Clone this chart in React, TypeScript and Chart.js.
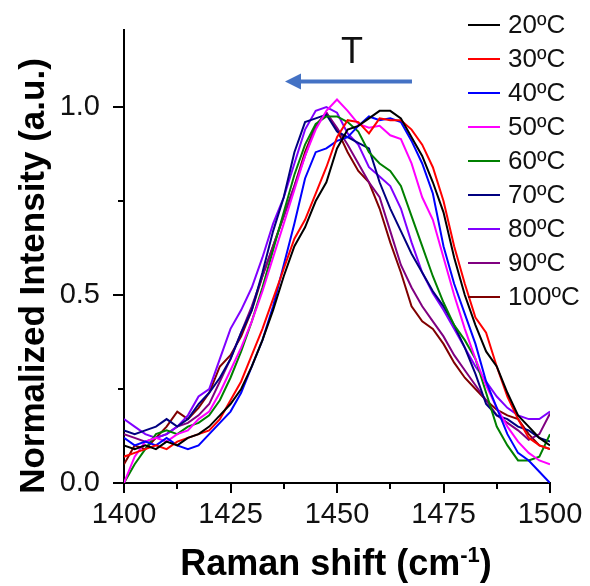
import React, { useEffect, useRef } from "react";
import { Chart, registerables } from "chart.js";

Chart.register(...registerables);

const wavenumbers = [
  1400, 1402.5, 1405, 1407.5, 1410, 1412.5, 1415, 1417.5, 1420, 1422.5,
  1425, 1427.5, 1430, 1432.5, 1435, 1437.5, 1440, 1442.5, 1445, 1447.5,
  1450, 1452.5, 1455, 1457.5, 1460, 1462.5, 1465, 1467.5, 1470, 1472.5,
  1475, 1477.5, 1480, 1482.5, 1485, 1487.5, 1490, 1492.5, 1495, 1497.5, 1500,
];

const t20 = [0.10, 0.09, 0.10, 0.09, 0.11, 0.10, 0.12, 0.13, 0.15, 0.18, 0.21, 0.25, 0.31, 0.38, 0.46, 0.55, 0.63, 0.68, 0.75, 0.80, 0.89, 0.94, 0.95, 0.97, 0.99, 0.99, 0.97, 0.92, 0.87, 0.80, 0.72, 0.60, 0.50, 0.42, 0.35, 0.31, 0.24, 0.18, 0.15, 0.12, 0.10];
const t30 = [0.07, 0.08, 0.09, 0.10, 0.09, 0.11, 0.12, 0.13, 0.14, 0.17, 0.22, 0.27, 0.34, 0.41, 0.49, 0.57, 0.65, 0.70, 0.77, 0.84, 0.92, 0.965, 0.96, 0.93, 0.97, 0.965, 0.965, 0.94, 0.90, 0.84, 0.75, 0.63, 0.53, 0.44, 0.40, 0.31, 0.23, 0.17, 0.12, 0.10, 0.09];
const t40 = [0.12, 0.10, 0.11, 0.10, 0.12, 0.10, 0.09, 0.10, 0.13, 0.16, 0.19, 0.24, 0.31, 0.38, 0.47, 0.58, 0.69, 0.81, 0.88, 0.89, 0.91, 0.92, 0.95, 0.975, 0.965, 0.97, 0.96, 0.91, 0.85, 0.77, 0.63, 0.53, 0.45, 0.37, 0.27, 0.20, 0.13, 0.08, 0.06, 0.03, 0.0];
const t50 = [0.0, 0.07, 0.11, 0.12, 0.11, 0.13, 0.14, 0.17, 0.19, 0.24, 0.30, 0.36, 0.43, 0.51, 0.60, 0.69, 0.78, 0.87, 0.94, 0.99, 1.02, 0.99, 0.955, 0.945, 0.95, 0.925, 0.915, 0.85, 0.76, 0.70, 0.60, 0.50, 0.41, 0.33, 0.26, 0.20, 0.15, 0.11, 0.08, 0.06, 0.05];
const t60 = [0.0, 0.05, 0.09, 0.13, 0.14, 0.13, 0.15, 0.16, 0.18, 0.22, 0.28, 0.35, 0.43, 0.52, 0.62, 0.72, 0.82, 0.90, 0.955, 0.975, 0.975, 0.96, 0.935, 0.88, 0.85, 0.83, 0.79, 0.71, 0.63, 0.55, 0.48, 0.42, 0.38, 0.33, 0.24, 0.15, 0.10, 0.06, 0.06, 0.07, 0.13];
const t70 = [0.14, 0.13, 0.14, 0.15, 0.17, 0.15, 0.17, 0.21, 0.24, 0.28, 0.33, 0.40, 0.46, 0.56, 0.67, 0.76, 0.88, 0.96, 0.97, 0.98, 0.935, 0.92, 0.905, 0.89, 0.80, 0.73, 0.67, 0.61, 0.56, 0.51, 0.47, 0.42, 0.36, 0.29, 0.21, 0.18, 0.17, 0.15, 0.14, 0.12, 0.11];
const t80 = [0.17, 0.15, 0.13, 0.12, 0.13, 0.15, 0.18, 0.23, 0.25, 0.33, 0.41, 0.46, 0.52, 0.60, 0.69, 0.76, 0.85, 0.94, 0.99, 1.0, 0.985, 0.93, 0.90, 0.84, 0.815, 0.79, 0.73, 0.64, 0.56, 0.505, 0.46, 0.41, 0.36, 0.31, 0.27, 0.23, 0.20, 0.18, 0.17, 0.17, 0.19];
const t90 = [0.13, 0.12, 0.11, 0.12, 0.13, 0.15, 0.16, 0.18, 0.21, 0.27, 0.33, 0.40, 0.47, 0.55, 0.63, 0.71, 0.79, 0.87, 0.95, 0.985, 0.945, 0.90, 0.85, 0.80, 0.76, 0.67, 0.58, 0.52, 0.47, 0.43, 0.39, 0.34, 0.30, 0.26, 0.22, 0.18, 0.16, 0.14, 0.115, 0.13, 0.185];
const t100 = [0.05, 0.10, 0.09, 0.12, 0.15, 0.19, 0.17, 0.20, 0.24, 0.31, 0.34, 0.39, 0.46, 0.55, 0.63, 0.71, 0.79, 0.88, 0.95, 0.985, 0.94, 0.88, 0.83, 0.80, 0.73, 0.64, 0.56, 0.47, 0.43, 0.41, 0.37, 0.32, 0.28, 0.25, 0.22, 0.195, 0.18, 0.17, 0.13, 0.10, 0.09];

const seriesLabels = ["20ºC", "30ºC", "40ºC", "50ºC", "60ºC", "70ºC", "80ºC", "90ºC", "100ºC"];
const seriesValues = [t20, t30, t40, t50, t60, t70, t80, t90, t100];
const seriesColors = ["#000000", "#FF0000", "#0000FF", "#FF00FF", "#008000", "#000080", "#8000FF", "#800080", "#800000"];

const xTicks = [1400, 1425, 1450, 1475, 1500];
const xMinorTicks = [1412.5, 1437.5, 1462.5, 1487.5];
const yTicks = [0, 0.5, 1.0];
const yMinorTicks = [0.25, 0.75];

const FONT = "'Liberation Sans', Arial, sans-serif";

const decorPlugin = {
  id: "decor",
  afterDraw(chart: any) {
    const ctx = chart.ctx;
    const xs = chart.scales.x;
    const ys = chart.scales.y;
    const area = chart.chartArea;
    ctx.save();
    // tick marks
    ctx.strokeStyle = "#000";
    ctx.lineWidth = 2;
    ctx.beginPath();
    xTicks.forEach((v) => {
      const px = Math.round(xs.getPixelForValue(v));
      ctx.moveTo(px, area.bottom);
      ctx.lineTo(px, area.bottom + 10);
    });
    xMinorTicks.forEach((v) => {
      const px = Math.round(xs.getPixelForValue(v));
      ctx.moveTo(px, area.bottom);
      ctx.lineTo(px, area.bottom + 6);
    });
    yTicks.forEach((v) => {
      const py = Math.round(ys.getPixelForValue(v));
      ctx.moveTo(area.left, py);
      ctx.lineTo(area.left - 11, py);
    });
    yMinorTicks.forEach((v) => {
      const py = Math.round(ys.getPixelForValue(v));
      ctx.moveTo(area.left, py);
      ctx.lineTo(area.left - 6, py);
    });
    ctx.stroke();

    // arrow with "T"
    const ax1 = xs.getPixelForValue(1467.6);
    const ax2 = xs.getPixelForValue(1437.8);
    const ay = ys.getPixelForValue(1.068);
    ctx.strokeStyle = "#4472C4";
    ctx.fillStyle = "#4472C4";
    ctx.lineWidth = 4;
    ctx.beginPath();
    ctx.moveTo(ax1, ay);
    ctx.lineTo(ax2 + 12, ay);
    ctx.stroke();
    ctx.beginPath();
    ctx.moveTo(ax2, ay);
    ctx.lineTo(ax2 + 16, ay - 8);
    ctx.lineTo(ax2 + 16, ay + 8);
    ctx.closePath();
    ctx.fill();
    ctx.fillStyle = "#111";
    ctx.font = `36px ${FONT}`;
    ctx.textAlign = "center";
    ctx.textBaseline = "alphabetic";
    ctx.fillText("T", xs.getPixelForValue(1453.5), ys.getPixelForValue(1.118));

    // legend
    ctx.textAlign = "left";
    ctx.textBaseline = "middle";
    ctx.font = `26px ${FONT}`;
    chart.data.datasets.forEach((ds: any, i: number) => {
      const y = 25 + i * 34;
      ctx.strokeStyle = ds.borderColor;
      ctx.lineWidth = 2;
      ctx.beginPath();
      ctx.moveTo(468, y);
      ctx.lineTo(500, y);
      ctx.stroke();
      ctx.fillStyle = "#111";
      ctx.fillText(ds.label, 508, y + 1);
    });

    // y title
    ctx.save();
    ctx.translate(34, 276);
    ctx.rotate(-Math.PI / 2);
    ctx.font = `bold 35px ${FONT}`;
    ctx.textAlign = "center";
    ctx.textBaseline = "middle";
    ctx.fillStyle = "#000";
    ctx.fillText("Normalized Intensity (a.u.)", 0, 0);
    ctx.restore();

    // x title with superscript
    const main = "Raman shift (cm";
    const sup = "-1";
    const close = ")";
    ctx.font = `bold 36px ${FONT}`;
    const wMain = ctx.measureText(main).width;
    const wClose = ctx.measureText(close).width;
    ctx.font = `bold 22px ${FONT}`;
    const wSup = ctx.measureText(sup).width;
    const total = wMain + wSup + wClose;
    const cx = 336;
    const x0 = cx - total / 2;
    const base = 575;
    ctx.textAlign = "left";
    ctx.textBaseline = "alphabetic";
    ctx.fillStyle = "#000";
    ctx.font = `bold 36px ${FONT}`;
    ctx.fillText(main, x0, base);
    ctx.font = `bold 22px ${FONT}`;
    ctx.fillText(sup, x0 + wMain, base - 13);
    ctx.font = `bold 36px ${FONT}`;
    ctx.fillText(close, x0 + wMain + wSup, base);
    ctx.restore();
  },
};

const zeroPad = (s: any) => {
  s.paddingTop = 0;
  s.paddingBottom = 0;
  s.paddingLeft = 0;
  s.paddingRight = 0;
};

export default function App() {
  const canvasRef = useRef<HTMLCanvasElement | null>(null);

  useEffect(() => {
    document.body.style.margin = "0";
    const canvas = canvasRef.current;
    if (!canvas) return;
    const datasets = seriesValues.map((vals, i) => ({
      label: seriesLabels[i],
      data: vals.map((v, j) => ({ x: wavenumbers[j], y: v })),
      borderColor: seriesColors[i],
      backgroundColor: seriesColors[i],
      borderWidth: 2,
      pointRadius: 0,
      tension: 0,
      fill: false,
    }));
    const chart = new Chart(canvas, {
      type: "line",
      data: { datasets },
      options: {
        animation: false,
        responsive: false,
        maintainAspectRatio: false,
        layout: { padding: { left: 0, top: 30, right: 40, bottom: 0 } },
        plugins: { legend: { display: false }, tooltip: { enabled: false } },
        scales: {
          x: {
            type: "linear",
            min: 1400,
            max: 1500,
            afterBuildTicks: (s: any) => {
              s.ticks = xTicks.map((v) => ({ value: v }));
            },
            afterFit: (s: any) => {
              s.height = 103;
              zeroPad(s);
            },
            ticks: {
              font: { family: FONT, size: 29 },
              color: "#111",
              padding: 15,
              maxRotation: 0,
              autoSkip: false,
              callback: (v: any) => String(v),
            },
            grid: { display: false, drawTicks: false },
            border: { display: true, color: "#000", width: 2 },
          },
          y: {
            type: "linear",
            min: 0,
            max: 1.205,
            afterBuildTicks: (s: any) => {
              s.ticks = yTicks.map((v) => ({ value: v }));
            },
            afterFit: (s: any) => {
              s.width = 124;
              zeroPad(s);
            },
            ticks: {
              font: { family: FONT, size: 29 },
              color: "#111",
              padding: 24,
              autoSkip: false,
              callback: (v: any) => Number(v).toFixed(1),
            },
            grid: { display: false, drawTicks: false },
            border: { display: true, color: "#000", width: 2 },
          },
        },
      },
      plugins: [decorPlugin],
    });
    return () => chart.destroy();
  }, []);

  return (
    <div style={{ position: "absolute", left: 0, top: 0, width: 590, height: 586, background: "#fff" }}>
      <canvas ref={canvasRef} width={590} height={586} style={{ display: "block" }} />
    </div>
  );
}
